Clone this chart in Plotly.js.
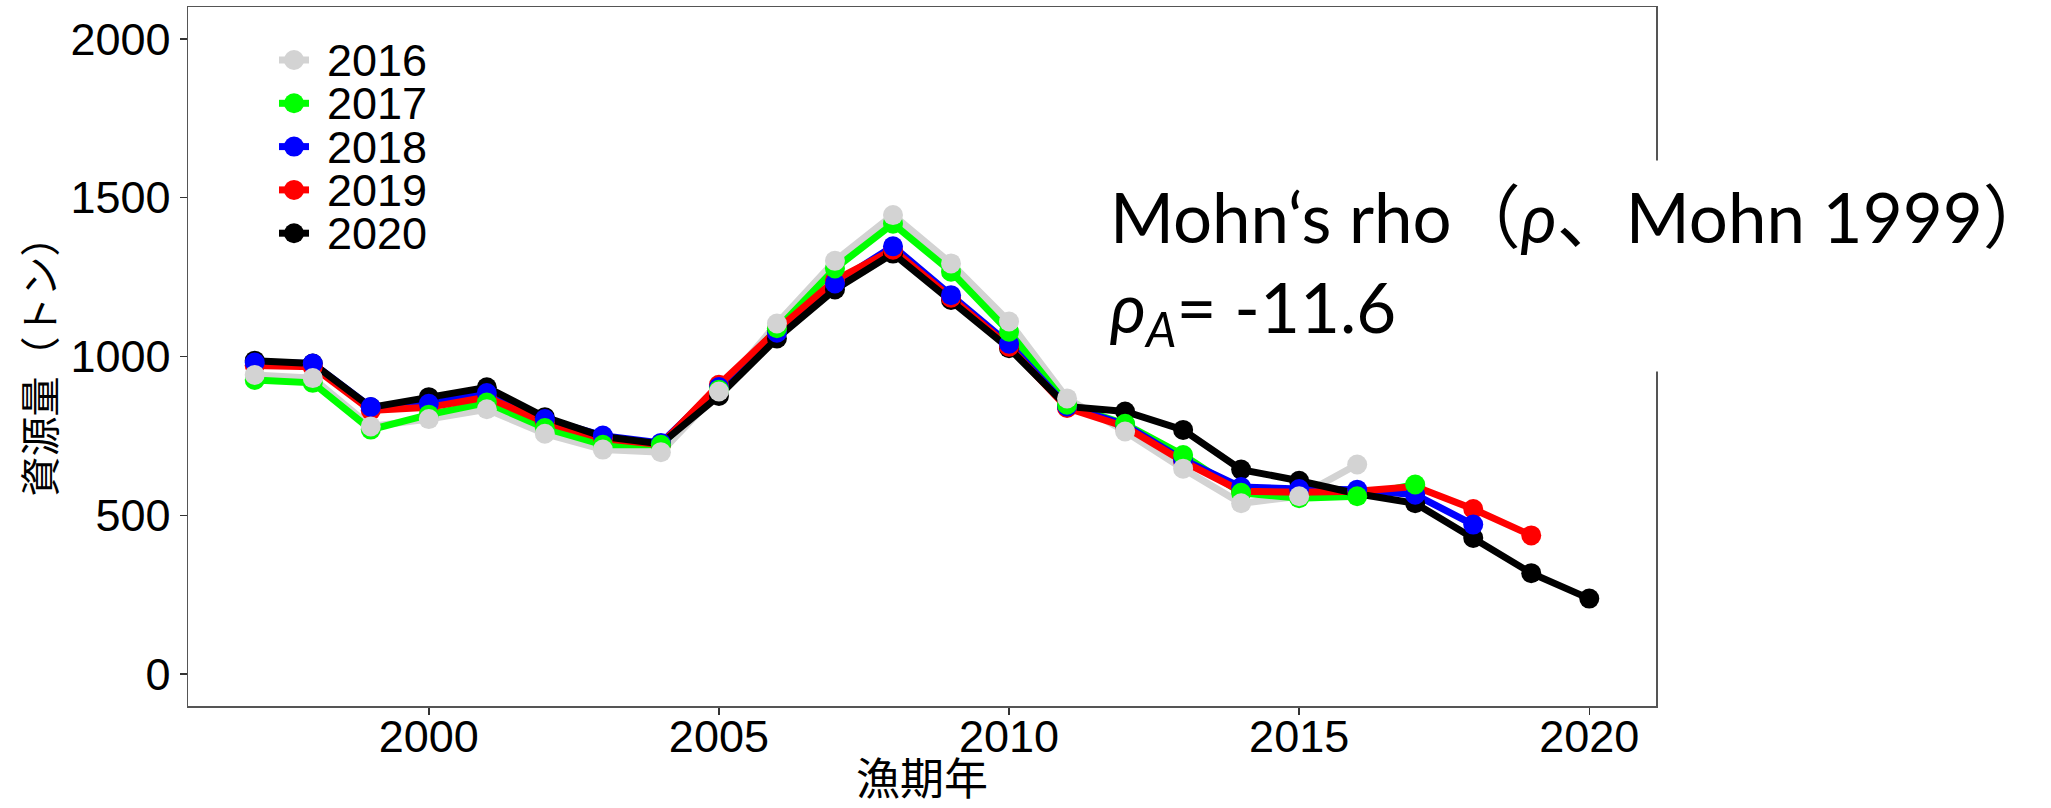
<!DOCTYPE html>
<html>
<head>
<meta charset="utf-8">
<script src="https://cdn.plot.ly/plotly-3.0.1.min.js"></script>
<style>html,body{margin:0;padding:0;background:#fff;}#chart{width:2051px;height:808px;}</style>
</head>
<body>
<div id="chart"></div>
<script>
// ---- data ----
const years = [1997,1998,1999,2000,2001,2002,2003,2004,2005,2006,2007,2008,2009,2010,2011,2012,2013,2014,2015,2016,2017,2018,2019,2020];
const seriesNames = ['2016','2017','2018','2019','2020'];
const seriesColors = ['#d3d3d3','#00ff00','#0000ff','#ff0000','#000000'];
const b2016 = [942,932,780,803,834,757,707,699,890,1104,1301,1445,1293,1110,868,764,647,538,560,660];
const b2017 = [926,917,770,817,855,775,722,722,895,1089,1277,1418,1267,1078,848,788,690,571,554,560,597];
const b2018 = [981,978,841,851,885,803,751,728,904,1075,1230,1347,1193,1040,843,785,675,589,583,581,565,471];
const b2019 = [972,968,830,840,872,793,742,723,911,1083,1240,1336,1185,1031,838,779,670,576,573,576,591,520,437];
const b2020 = [987,978,840,872,903,809,748,725,876,1057,1211,1324,1178,1026,843,827,769,644,609,568,538,429,318,238];
const seriesValues = [b2016,b2017,b2018,b2019,b2020];
const xTicks = [2000,2005,2010,2015,2020];
const yTicks = [0,500,1000,1500,2000];
const xTitle = '漁期年';
const yTitle = '資源量（トン）';
const noteText = 'Mohn‘s rho（<i>ρ</i>、Mohn 1999）<br><i>ρ<sub>A</sub></i>= -11.6';

// ---- styling ----
const numFont = 'Liberation Sans, Arial, sans-serif';
const cjkFont = 'Noto Sans CJK JP, sans-serif';
const W = 2051, H = 808;
const M = {l:188, r:395, t:7, b:102};
const plotW = W - M.l - M.r, plotH = H - M.t - M.b;
const px2x = p => (p - M.l) / plotW;
const py2y = p => (H - M.b - p) / plotH;

const traces = [];
// lines first (2016 at bottom ... 2020 on top)
seriesValues.forEach((vals, i) => {
  traces.push({
    type: 'scatter', mode: 'lines', name: seriesNames[i],
    x: years.slice(0, vals.length), y: vals,
    line: {color: seriesColors[i], width: 7},
    showlegend: false, hoverinfo: 'skip'
  });
});
// points afterwards, in reverse order (2016 points on top)
for (let i = seriesValues.length - 1; i >= 0; i--) {
  const vals = seriesValues[i];
  traces.push({
    type: 'scatter', mode: 'markers', name: seriesNames[i],
    x: years.slice(0, vals.length), y: vals,
    marker: {color: seriesColors[i], size: 20, line: {width: 0}},
    showlegend: false
  });
}

// custom legend (keys + labels), spaced like the reference
const shapes = [];
const annotations = [];
seriesNames.forEach((name, i) => {
  const yp = py2y(60 + i * 43.3);
  shapes.push({type: 'line', xref: 'paper', yref: 'paper',
    x0: px2x(279), x1: px2x(309), y0: yp, y1: yp,
    line: {color: seriesColors[i], width: 7}});
  shapes.push({type: 'circle', xref: 'paper', yref: 'paper',
    xsizemode: 'pixel', ysizemode: 'pixel', xanchor: px2x(294), yanchor: yp,
    x0: -10, x1: 10, y0: -10, y1: 10,
    fillcolor: seriesColors[i], line: {width: 0}});
  annotations.push({xref: 'paper', yref: 'paper', x: px2x(326), y: yp,
    xanchor: 'left', yanchor: 'middle', showarrow: false, text: name,
    height: 42, borderpad: 0,
    font: {family: numFont, size: 45, color: '#000'}});
});

annotations.push({
  xref: 'paper', yref: 'paper', x: px2x(1095), y: py2y(266),
  xanchor: 'left', yanchor: 'middle', align: 'left', showarrow: false,
  text: noteText, bgcolor: '#ffffff', borderpad: 14,
  font: {family: 'Lato, Noto Sans CJK JP, sans-serif', size: 69, color: '#000'}
});

const axisCommon = {
  showline: true, linecolor: '#555', linewidth: 1.5, mirror: true,
  showgrid: false, zeroline: false,
  ticks: 'outside', ticklen: 7, tickwidth: 1.5, tickcolor: '#333',
  tickfont: {family: numFont, size: 45, color: '#000'}
};

const layout = {
  width: W, height: H,
  margin: {l: M.l, r: M.r, t: M.t, b: M.b, pad: 0},
  paper_bgcolor: '#fff', plot_bgcolor: '#fff',
  showlegend: false,
  xaxis: Object.assign({}, axisCommon, {
    range: [1995.85, 2021.15], tickvals: xTicks, ticktext: xTicks.map(String),
    automargin: false, ticklabelstandoff: -17,
    title: {text: xTitle, font: {family: cjkFont, size: 44, color: '#000'}, standoff: 33}
  }),
  yaxis: Object.assign({}, axisCommon, {
    range: [-100, 2100], tickvals: yTicks, ticktext: yTicks.map(String),
    automargin: false,
    title: {text: yTitle, font: {family: cjkFont, size: 40, color: '#000'}, standoff: 2}
  }),
  shapes: shapes,
  annotations: annotations
};

Plotly.newPlot('chart', traces, layout, {staticPlot: true, displayModeBar: false});
</script>
</body>
</html>
